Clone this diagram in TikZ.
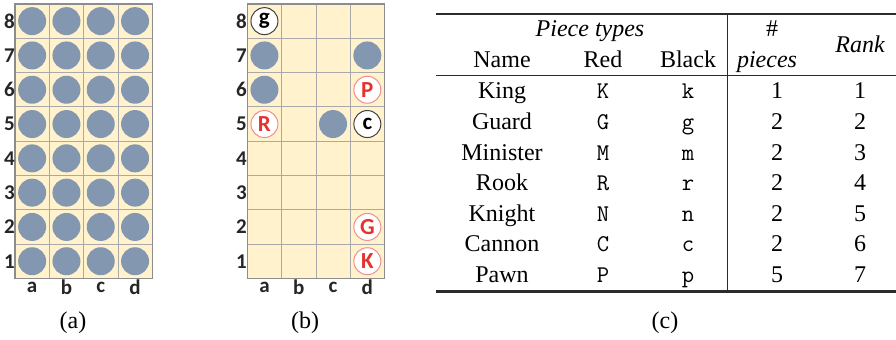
\documentclass[tikz,border=0pt]{standalone}
\usepackage{fontspec}
\setmainfont{Liberation Serif}
\newfontfamily\boardfont{Carlito}
\usetikzlibrary{positioning}
\definecolor{cream}{HTML}{FFF2CC}
\definecolor{gridline}{HTML}{A9A9A9}
\definecolor{frame}{HTML}{8C8C8C}
\definecolor{stone}{HTML}{8497B0}
\definecolor{redpiece}{HTML}{E5322F}
\definecolor{rulecol}{HTML}{2B2B2B}
\tikzset{
  board/.style={fill=cream,draw=frame,line width=0.6pt},
  cell/.style={draw=gridline,line width=0.4pt},
  blank/.style={circle,fill=stone,minimum size=14pt,inner sep=0pt},
  redpc/.style={circle,draw=redpiece!55,fill=white,line width=0.5pt,minimum size=13.5pt,inner sep=0pt,
    font=\boardfont\bfseries\fontsize{11.5}{12}\selectfont,text=redpiece},
  blackpc/.style={redpc,draw=black!75,text=black},
  coordlbl/.style={font=\boardfont\bfseries\fontsize{10.5}{11}\selectfont,inner sep=0pt,text=black!85},
  caption/.style={font=\fontsize{12}{14}\selectfont,inner sep=0pt},
  tabtext/.style={font=\fontsize{12}{14}\selectfont,anchor=base,inner sep=0pt},
  tabcode/.style={font=\ttfamily\fontsize{12}{14}\selectfont,anchor=base,inner sep=0pt},
  thickrule/.style={draw=rulecol,line width=1.1pt},
  thinrule/.style={draw=rulecol,line width=0.5pt},
  vrule/.style={draw=rulecol,line width=0.7pt},
}

\begin{document}
\begin{tikzpicture}[x=0.5pt,y=-0.5pt]
\useasboundingbox (0,0) rectangle (896,340);

% board (a): full start position
\draw[board] (15,4) rectangle (152.2,278.4);
\foreach \k in {1,2,3} \draw[cell] ({15+34.3*\k},4) -- ({15+34.3*\k},278.4);
\foreach \k in {1,...,7} \draw[cell] (15,{4+34.3*\k}) -- (152.2,{4+34.3*\k});
\draw[draw=frame,line width=0.6pt] (15,4) rectangle (152.2,278.4);
\foreach \c in {1,...,4}
  \foreach \r in {1,...,8}
    \node[blank] (a-\c\r) at ({15+34.3*(\c-0.5)},{4+34.3*(8.5-\r)}) {};
\foreach \r in {1,...,8}
  \node[coordlbl] (a-row\r) at (9.5,{4+34.3*(8.5-\r)}) {\r};
\foreach \f [count=\c] in {a,b,c,d}
  \node[coordlbl] (a-col\f) at ({15+34.3*(\c-0.5)},287) {\f};
\node[caption] (capa) at (73,323) {(a)};

% board (b): a later position
\draw[board] (247.3,4) rectangle (384.5,278.4);
\foreach \k in {1,2,3} \draw[cell] ({247.3+34.3*\k},4) -- ({247.3+34.3*\k},278.4);
\foreach \k in {1,...,7} \draw[cell] (247.3,{4+34.3*\k}) -- (384.5,{4+34.3*\k});
\draw[draw=frame,line width=0.6pt] (247.3,4) rectangle (384.5,278.4);
\foreach \r in {1,...,8}
  \node[coordlbl] (b-row\r) at (241.5,{4+34.3*(8.5-\r)}) {\r};
\foreach \f [count=\c] in {a,b,c,d}
  \node[coordlbl] (b-col\f) at ({247.3+34.3*(\c-0.5)},287) {\f};
\node[blackpc] (b-a8) at (264.45,21.15) {g};
\node[blank]   (b-a7) at (264.45,55.45) {};
\node[blank]   (b-d7) at (367.35,55.45) {};
\node[blank]   (b-a6) at (264.45,89.75) {};
\node[redpc]   (b-d6) at (367.35,89.75) {P};
\node[redpc]   (b-a5) at (264.45,124.05) {R};
\node[blank]   (b-c5) at (333.05,124.05) {};
\node[blackpc] (b-d5) at (367.35,124.05) {c};
\node[redpc]   (b-d2) at (367.35,226.95) {G};
\node[redpc]   (b-d1) at (367.35,261.25) {K};
\node[caption] (capb) at (305,323) {(b)};

% table (c): piece types
\draw[thickrule] (436,14) -- (896,14);
\draw[thinrule] (436,76) -- (896,76);
\draw[thickrule] (436,291.5) -- (896,291.5);
\draw[vrule] (727.7,14) -- (727.7,291.5);
\node[tabtext] (hdr-types) at (590,37) {\itshape Piece types};
\node[tabtext] (hdr-num) at (772,37) {\#};
\node[tabtext] (hdr-rank) at (860,53) {\itshape Rank};
\node[tabtext] (hdr-name) at (502,68) {Name};
\node[tabtext] (hdr-red) at (603,68) {Red};
\node[tabtext] (hdr-black) at (688,68) {Black};
\node[tabtext] (hdr-pieces) at (767,68) {\itshape pieces};
\foreach \nm/\rd/\bk/\np/\rk [count=\i] in {King/K/k/1/1,Guard/G/g/2/2,Minister/M/m/2/3,Rook/R/r/2/4,Knight/N/n/2/5,Cannon/C/c/2/6,Pawn/P/p/5/7}{
  \node[tabtext] (name-\i) at (502,{99+30.6*(\i-1)}) {\nm};
  \node[tabcode] (red-\i) at (603,{99+30.6*(\i-1)}) {\rd};
  \node[tabcode] (black-\i) at (688,{99+30.6*(\i-1)}) {\bk};
  \node[tabtext] (num-\i) at (777,{99+30.6*(\i-1)}) {\np};
  \node[tabtext] (rank-\i) at (860,{99+30.6*(\i-1)}) {\rk};
}
\node[caption] (capc) at (665,323) {(c)};

\end{tikzpicture}
\end{document}
